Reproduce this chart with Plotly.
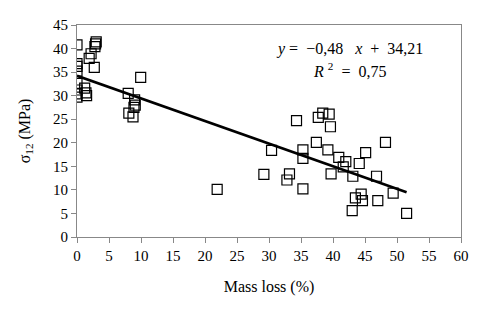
import plotly.graph_objects as go

mass_loss = [0, 0, 0, 0, 0, 0, 0, 0,
             1.2, 1.4, 1.5,
             3.0, 2.9, 2.8, 2.2, 1.9, 2.7,
             8.0, 9.95, 9.0, 8.1, 8.9, 8.75, 9.1,
             21.9, 29.2, 30.4,
             34.3, 37.7, 38.4, 39.4, 39.6, 37.4, 39.2, 35.3, 35.3,
             40.9, 42.0, 41.6, 44.1, 45.1, 48.2,
             39.7, 43.1, 46.8, 33.2, 32.8, 35.3,
             49.4, 44.4, 43.5, 44.6, 47.0, 43.0, 51.5]
sigma12 = [40.8, 36.8, 36.2, 35.2, 32.6, 31.2, 30.4, 29.7,
           31.6, 30.6, 30.0,
           41.4, 41.0, 40.4, 38.9, 37.9, 36.0,
           30.5, 33.9, 29.1, 26.3, 27.5, 25.5, 28.0,
           10.1, 13.3, 18.4,
           24.7, 25.4, 26.3, 26.1, 23.4, 20.1, 18.5, 18.5, 16.7,
           16.9, 16.0, 14.9, 15.6, 17.9, 20.1,
           13.4, 12.9, 12.9, 13.4, 12.1, 10.2,
           9.3, 9.1, 8.3, 7.7, 7.7, 5.6, 5.0]

slope = -0.48
intercept = 34.21
fit_x = [0, 51.5]
fit_y = [slope * v + intercept for v in fit_x]

x_ticks = list(range(0, 61, 5))
y_ticks = list(range(0, 46, 5))

font = "Liberation Serif, Times New Roman, serif"

fig = go.Figure()
fig.add_trace(go.Scatter(x=mass_loss, y=sigma12, mode="markers",
                         marker=dict(symbol="square-open", size=10, color="black",
                                     line=dict(width=1.2, color="black")),
                         showlegend=False))
fig.add_trace(go.Scatter(x=fit_x, y=fit_y, mode="lines",
                         line=dict(color="black", width=2.6), showlegend=False))

# page body has an 8px default margin, so the figure is offset by 8px
fig.update_layout(
    width=473, height=308,
    margin=dict(l=69, r=20, t=17, b=79, autoexpand=False),
    paper_bgcolor="white", plot_bgcolor="white",
    font=dict(family=font, size=15, color="black"),
    xaxis=dict(range=[0, 60], tickvals=x_ticks, showgrid=False, zeroline=False,
               showline=True, linecolor="#888888", linewidth=1, mirror=True,
               ticks="outside", ticklen=5, tickcolor="#888888", automargin=False,
               title=dict(text="Mass loss (%)", standoff=17, font=dict(size=16))),
    yaxis=dict(range=[0, 45], tickvals=y_ticks, showgrid=False, zeroline=False,
               showline=True, linecolor="#888888", linewidth=1, mirror=True,
               ticks="outside", ticklen=5, tickcolor="#888888", automargin=False,
               title=dict(text="σ<sub>12</sub> (MPa)", standoff=18, font=dict(size=16))),
)

fig.add_annotation(x=0.71, y=0.937, xref="paper", yref="paper", xanchor="center",
                   text="<i>y</i> =  −0,48   <i>x</i>  +  34,21", showarrow=False,
                   font=dict(size=16, family=font))
fig.add_annotation(x=0.71, y=0.842, xref="paper", yref="paper", xanchor="center",
                   text="<i>R</i> <sup>2</sup>  =  0,75", showarrow=False,
                   font=dict(size=16, family=font))

fig.write_html("out.html")
